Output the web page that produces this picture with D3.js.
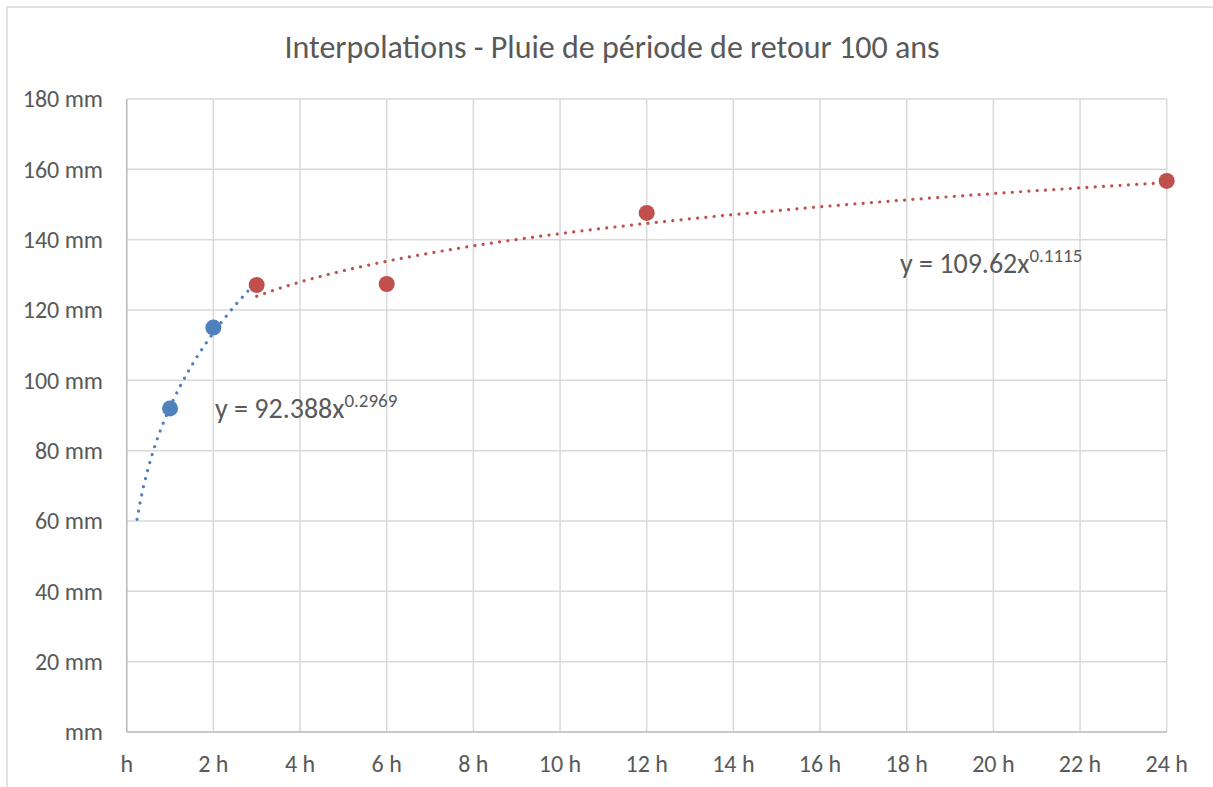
<!DOCTYPE html>
<html><head><meta charset="utf-8">
<script src="https://cdn.jsdelivr.net/npm/d3@7"></script>
<style>body{margin:0;background:#fff}svg{display:block}</style>
</head><body>
<svg id="c" width="1213" height="787"></svg>
<script>
const title = "Interpolations - Pluie de période de retour 100 ans";
const xTicks = [0,2,4,6,8,10,12,14,16,18,20,22,24];
const yTicks = [0,20,40,60,80,100,120,140,160,180];
const blueX = [1,2];
const blueY = [92,115];
const redX = [3,6,12,24];
const redY = [127.1,127.4,147.6,156.7];
// trendline equations shown on the chart: y = a * x^b
const blueFit = {a:92.388, b:0.2969, from:0.24, to:2.8, label:"y = 92.388x", exp:"0.2969"};
const redFit = {a:109.62, b:0.1115, from:3, to:24, label:"y = 109.62x", exp:"0.1115"};

const svg = d3.select("#c");
const L=126.7, R=1166.7, T=99, B=732;
const x = d3.scaleLinear().domain([0,24]).range([L,R]);
const y = d3.scaleLinear().domain([0,180]).range([B,T]);
const font = "Carlito, Calibri, Lato, sans-serif";
const grey = "#595959";

svg.append("rect").attr("x",7).attr("y",7).attr("width",1213).attr("height",800)
  .attr("fill","none").attr("stroke","#d9d9d9").attr("stroke-width",1.5);

// grid
svg.append("g").selectAll("line").data(yTicks).join("line")
  .attr("x1",L).attr("x2",R).attr("y1",d=>y(d)).attr("y2",d=>y(d))
  .attr("stroke","#d9d9d9").attr("stroke-width",1.5);
svg.append("g").selectAll("line").data(xTicks).join("line")
  .attr("y1",T).attr("y2",B).attr("x1",d=>x(d)).attr("x2",d=>x(d))
  .attr("stroke","#d9d9d9").attr("stroke-width",1.5);
// axes lines
svg.append("line").attr("x1",L).attr("x2",L).attr("y1",T).attr("y2",B).attr("stroke","#bfbfbf").attr("stroke-width",1.5);
svg.append("line").attr("x1",L).attr("x2",R).attr("y1",B).attr("y2",B).attr("stroke","#bfbfbf").attr("stroke-width",1.5);

// tick labels
svg.append("g").selectAll("text").data(yTicks).join("text")
  .attr("x",103).attr("y",d=>y(d)).attr("dy","0.35em").attr("text-anchor","end")
  .attr("font-family",font).attr("font-size",24).attr("fill",grey)
  .text(d=> d===0 ? "mm" : d+" mm");
svg.append("g").selectAll("text").data(xTicks).join("text")
  .attr("x",d=>x(d)).attr("y",764).attr("dy","0.35em").attr("text-anchor","middle")
  .attr("font-family",font).attr("font-size",24).attr("fill",grey)
  .text(d=> d===0 ? "h" : d+" h");

// title
svg.append("text").attr("x",612).attr("y",47).attr("dy","0.35em").attr("text-anchor","middle")
  .attr("font-family",font).attr("font-size",32).attr("fill",grey).text(title);

// trendlines
function drawFit(f,color){
  const xs = d3.range(f.from, f.to, (f.to-f.from)/200).concat([f.to]);
  svg.append("path").datum(xs)
    .attr("d", d3.line().x(d=>x(d)).y(d=>y(f.a*Math.pow(d,f.b))))
    .attr("fill","none").attr("stroke",color).attr("stroke-width",3.2)
    .attr("stroke-linecap","round").attr("stroke-dasharray","0.01 8.3");
}
drawFit(blueFit,"#4F81BD");
drawFit(redFit,"#C0504D");

// points
svg.append("g").selectAll("circle").data(blueX).join("circle")
  .attr("cx",d=>x(d)).attr("cy",(d,i)=>y(blueY[i])).attr("r",8).attr("fill","#4F81BD");
svg.append("g").selectAll("circle").data(redX).join("circle")
  .attr("cx",d=>x(d)).attr("cy",(d,i)=>y(redY[i])).attr("r",8).attr("fill","#C0504D");

// equation labels
function eq(f,px,py){
  const t = svg.append("text").attr("x",px).attr("y",py)
    .attr("font-family",font).attr("font-size",28).attr("fill",grey);
  t.append("tspan").text(f.label);
  t.append("tspan").attr("font-size",19).attr("dy",-11).text(f.exp);
}
eq(blueFit,215,418);
eq(redFit,900,273);
</script>
</body></html>
